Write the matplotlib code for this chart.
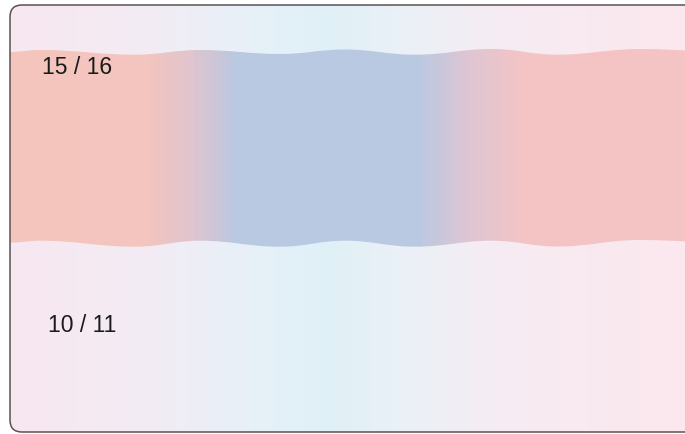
import numpy as np
import matplotlib
matplotlib.use("Agg")
import matplotlib.pyplot as plt
from matplotlib.path import Path
from matplotlib.patches import FancyBboxPatch, PathPatch
from matplotlib.colors import LinearSegmentedColormap

# labels
top_label = "15 / 16"
bottom_label = "10 / 11"

# wave edges of the band (pixel coords)
edge_x = [10, 40, 135, 200, 280, 345, 415, 492, 557, 640, 700]
top_y = [52, 50, 54.7, 50, 54, 49.5, 54.7, 49, 54.7, 49, 50.5]
bottom_y = [242.7, 240.7, 246.7, 240.7, 246.7, 240.7, 246.7, 240.7, 246.5, 240, 241.5]

# colour stops (x position, rgb)
bg_stops = [(0, (248, 231, 240)), (150, (243, 236, 244)), (250, (231, 240, 248)),
            (330, (224, 241, 247)), (420, (236, 240, 246)), (500, (246, 236, 243)),
            (685, (251, 232, 238))]
band_stops = [(0, (244, 197, 189)), (145, (243, 197, 191)), (190, (224, 196, 207)),
              (235, (186, 201, 226)), (420, (186, 201, 226)), (465, (220, 198, 212)),
              (525, (244, 196, 198)), (685, (245, 196, 196))]

W, H = 685, 434


def make_cmap(stops, name):
    return LinearSegmentedColormap.from_list(
        name, [(x / W, tuple(c / 255 for c in rgb)) for x, rgb in stops])


def wave(xs, ys):
    # smooth curve through the extremes with flat tangents
    verts = [(xs[0], ys[0])]
    codes = []
    for i in range(len(xs) - 1):
        dx = xs[i + 1] - xs[i]
        verts += [(xs[i] + dx * 0.4, ys[i]), (xs[i + 1] - dx * 0.4, ys[i + 1]), (xs[i + 1], ys[i + 1])]
        codes += [Path.CURVE4] * 3
    return verts, codes


fig = plt.figure(figsize=(W / 100, H / 100), dpi=100)
ax = fig.add_axes([0, 0, 1, 1])
ax.set_xlim(0, W)
ax.set_ylim(H, 0)
ax.axis("off")

box = FancyBboxPatch((10, 5), 700, 427, boxstyle="round,pad=0,rounding_size=12",
                     facecolor="none", edgecolor="#5a5252", linewidth=1.1, zorder=5)
ax.add_patch(box)

cols = np.linspace(0, 1, 70)[None, :]
bg = ax.imshow(cols, cmap=make_cmap(bg_stops, "bg"), aspect="auto",
               extent=[0, W, H, 0], interpolation="nearest", zorder=1)
bg.set_clip_path(box)

tv, tc = wave(edge_x, top_y)
bv, bc = wave(edge_x[::-1], bottom_y[::-1])
verts = tv + bv + [tv[0]]
codes = [Path.MOVETO] + tc + [Path.LINETO] + bc + [Path.CLOSEPOLY]
band_path = PathPatch(Path(verts, codes), facecolor="none", edgecolor="none")
ax.add_patch(band_path)

cols2 = np.linspace(0, 1, 120)[None, :]
band = ax.imshow(cols2, cmap=make_cmap(band_stops, "band"), aspect="auto",
                 extent=[0, W, H, 0], interpolation="nearest", zorder=2)
band.set_clip_path(band_path)

ax.set_xlim(0, W)
ax.set_ylim(H, 0)

ax.text(42, 68, top_label, fontsize=16.5, family="Liberation Sans", color="#1a1a1a",
        va="center", ha="left", zorder=6)
ax.text(48, 325, bottom_label, fontsize=16.5, family="Liberation Sans", color="#1a1a1a",
        va="center", ha="left", zorder=6)

fig.savefig("out.png", dpi=100)
